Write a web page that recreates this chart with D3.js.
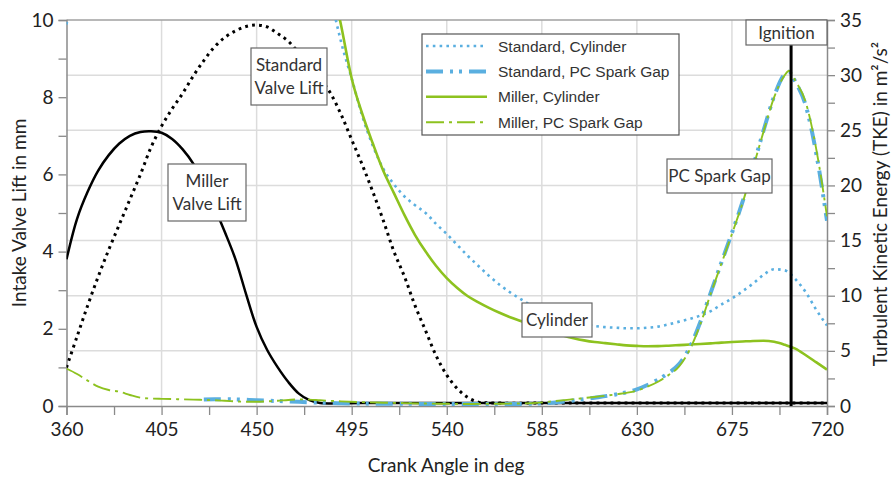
<!DOCTYPE html>
<html>
<head>
<meta charset="utf-8">
<script src="https://cdn.jsdelivr.net/npm/d3@7"></script>
<style>
  body { margin: 0; background: #fff; }
  svg { display: block; }
</style>
</head>
<body>
<svg id="chart" width="892" height="479"></svg>
<script>
// ---------------- DATA ----------------
const xTicks = [360, 405, 450, 495, 540, 585, 630, 675, 720];
const leftTicks = [0, 2, 4, 6, 8, 10];
const rightTicks = [0, 5, 10, 15, 20, 25, 30, 35];

// Intake valve lift (mm) vs crank angle (deg)
const millerLiftDeg = [360,365,370,375,380,385,390,395,400,405,410,415,420,425,430,435,440,445,450,455,460,465,470,475,480,500,550,600,650,700,720];
const millerLiftVal = [3.8,4.85,5.55,6.1,6.5,6.8,7.0,7.1,7.12,7.08,6.92,6.65,6.28,5.75,5.15,4.5,3.8,2.9,2.05,1.45,1.0,0.62,0.32,0.15,0.08,0.08,0.08,0.08,0.08,0.08,0.08];

const stdLiftDeg = [360,365,370,375,380,385,390,395,400,405,410,415,420,425,430,435,440,445,450,455,460,465,470,475,480,485,490,495,500,505,510,515,520,525,530,535,540,545,550,555,560,600,650,700,720];
const stdLiftVal = [1.0,1.8,2.6,3.35,4.05,4.7,5.35,6.0,6.7,7.25,7.7,8.1,8.55,8.95,9.3,9.55,9.72,9.83,9.87,9.82,9.65,9.45,9.15,8.85,8.5,8.1,7.55,6.9,6.25,5.55,4.8,4.0,3.35,2.6,1.95,1.3,0.8,0.45,0.22,0.1,0.08,0.08,0.08,0.08,0.08];

// Turbulent kinetic energy (m²/s²)
const stdCylDeg = [360,365,400,440,480,485,490,495,500,505,510,515,520,525,530,535,540,545,550,555,560,565,570,575,580,585,590,595,600,605,610,615,620,625,630,635,640,645,650,655,660,665,670,675,680,685,690,695,700,705,710,715,720];
const stdCylVal = [34.6,40,80,90,45,37.5,33,29.7,26.3,23.6,21.5,20.1,19.0,18.2,17.5,16.5,15.6,14.6,13.6,12.7,11.8,11.0,10.3,9.7,9.1,8.6,8.2,7.9,7.6,7.4,7.25,7.15,7.1,7.05,7.05,7.1,7.2,7.4,7.65,7.9,8.2,8.6,9.2,9.75,10.4,11.1,11.9,12.4,12.3,11.5,10.3,8.7,7.3];

const stdGapDeg = [425,430,440,450,460,470,480,490,500,520,540,560,580,590,600,610,620,630,635,640,645,650,655,660,665,670,675,680,685,690,695,700,702,705,710,715,720];
const stdGapVal = [0.6,0.62,0.6,0.52,0.45,0.38,0.3,0.25,0.22,0.2,0.18,0.18,0.2,0.3,0.5,0.75,1.05,1.5,1.9,2.4,3.0,3.8,5.3,7.6,10.3,13.0,15.7,18.5,21.7,25.0,28.1,30.1,30.3,29.4,27.2,22.8,16.8];

const milCylDeg = [360,400,440,480,485,490,495,500,505,510,515,520,525,530,535,540,545,550,555,560,565,570,575,580,585,590,595,600,605,610,615,620,625,630,635,640,645,650,655,660,665,670,675,680,685,690,695,700,705,710,715,720];
const milCylVal = [60,75,80,45,39,34.5,29.7,26.5,23.8,21.3,19.3,17.3,15.5,14.0,12.7,11.6,10.7,9.95,9.4,8.9,8.45,8.05,7.7,7.35,7.0,6.7,6.4,6.15,5.95,5.8,5.7,5.6,5.5,5.45,5.42,5.43,5.47,5.52,5.57,5.62,5.68,5.75,5.8,5.85,5.9,5.92,5.82,5.55,5.2,4.6,3.95,3.3];

const milGapDeg = [360,365,370,375,380,385,390,395,400,405,410,415,420,425,430,435,440,445,450,455,460,465,470,475,480,490,500,510,520,530,540,550,560,570,580,590,600,610,620,630,635,640,645,650,655,660,665,670,675,680,685,690,695,700,702,705,710,715,720];
const milGapVal = [3.4,2.9,2.3,1.75,1.45,1.3,1.0,0.75,0.68,0.65,0.63,0.6,0.58,0.55,0.52,0.47,0.42,0.38,0.38,0.42,0.48,0.55,0.6,0.58,0.52,0.42,0.35,0.3,0.26,0.22,0.2,0.18,0.2,0.22,0.25,0.42,0.62,0.82,1.05,1.4,1.75,2.2,2.8,3.6,5.1,7.4,10.2,12.9,15.6,18.4,21.6,24.9,28.0,30.0,30.4,29.5,27.5,23.2,17.2];

const ignitionDeg = 703;

const legendNames = ["Standard, Cylinder", "Standard, PC Spark Gap", "Miller, Cylinder", "Miller, PC Spark Gap"];

// ---------------- STYLES ----------------
const BLUE = "#5aafe0", GREEN = "#8dc21f", BLACK = "#000";
const styles = {
  "Standard, Cylinder":     { color: BLUE,  width: 2.6, dash: "2.6,4.2" },
  "Standard, PC Spark Gap": { color: BLUE,  width: 4,   dash: "17,7,3,6,3,7" },
  "Miller, Cylinder":       { color: GREEN, width: 2.6, dash: null },
  "Miller, PC Spark Gap":   { color: GREEN, width: 1.9, dash: "18,5,3,5" }
};

// ---------------- CHART ----------------
const svg = d3.select("#chart");
const L = 66.5, R = 827, T = 20, B = 406;
const x = d3.scaleLinear().domain([360, 720]).range([L, R]);
const yL = d3.scaleLinear().domain([0, 10]).range([B, T]);
const yR = d3.scaleLinear().domain([0, 35]).range([B, T]);

const tickFont = "Lato, 'Open Sans', sans-serif";
const legFont = "'Liberation Sans', Arial, sans-serif";

svg.append("defs").append("clipPath").attr("id", "clip")
  .append("rect").attr("x", L).attr("y", T).attr("width", R - L).attr("height", B - T);

// grid
const grid = svg.append("g").attr("stroke", "#dcdcdc").attr("stroke-width", 1.5);
[5, 10, 15, 20, 25, 30].forEach(v => {
  grid.append("line").attr("x1", L).attr("x2", R).attr("y1", yR(v)).attr("y2", yR(v));
});
xTicks.slice(1, -1).forEach(v => {
  grid.append("line").attr("x1", x(v)).attr("x2", x(v)).attr("y1", T).attr("y2", B);
});
// top border
svg.append("line").attr("x1", L).attr("x2", R).attr("y1", T).attr("y2", T)
  .attr("stroke", "#a0a0a0").attr("stroke-width", 1.5);

// axes
function styleAxis(g) {
  g.select(".domain").attr("stroke", "#8a8a8a").attr("stroke-width", 1.5);
  g.selectAll(".tick line").attr("stroke", "#8a8a8a").attr("stroke-width", 1.3);
  g.selectAll(".tick text").attr("fill", "#222").style("font-family", tickFont).style("font-size", "19px");
}
const xAll = d3.range(360, 720.1, 22.5);
svg.append("g").attr("transform", `translate(0,${B})`)
  .call(d3.axisBottom(x).tickValues(xAll).tickSize(9).tickPadding(8)
    .tickFormat(d => xTicks.includes(d) ? d : ""))
  .call(styleAxis);
svg.append("g").attr("transform", `translate(${L},0)`)
  .call(d3.axisLeft(yL).tickValues(d3.range(0, 10.1, 1)).tickSize(8).tickPadding(5)
    .tickFormat(d => leftTicks.includes(d) ? d : ""))
  .call(styleAxis);
svg.append("g").attr("transform", `translate(${R},0)`)
  .call(d3.axisRight(yR).tickValues(d3.range(0, 35.1, 2.5)).tickSize(8).tickPadding(5)
    .tickFormat(d => rightTicks.includes(d) ? d : ""))
  .call(styleAxis);

// axis titles
svg.append("text").attr("transform", `translate(26,213) rotate(-90)`)
  .attr("text-anchor", "middle").style("font-family", tickFont).style("font-size", "19px")
  .attr("fill", "#222").text("Intake Valve Lift in mm");
svg.append("text").attr("x", 446).attr("y", 472)
  .attr("text-anchor", "middle").style("font-family", tickFont).style("font-size", "19px")
  .attr("fill", "#222").text("Crank Angle in deg");
svg.append("text").attr("transform", `translate(887,204) rotate(-90)`)
  .attr("text-anchor", "middle").style("font-family", tickFont).style("font-size", "19px")
  .attr("fill", "#222").text("Turbulent Kinetic Energy (TKE) in m²/s²");

// plot curves
const plot = svg.append("g").attr("clip-path", "url(#clip)");
function zip(a, b) { return a.map((d, i) => [d, b[i]]); }

function drawLine(data, yScale, st, curve) {
  const line = d3.line().x(d => x(d[0])).y(d => yScale(d[1])).curve(curve || d3.curveMonotoneX);
  const p = plot.append("path").attr("d", line(data)).attr("fill", "none")
    .attr("stroke", st.color).attr("stroke-width", st.width)
    .attr("stroke-linecap", "butt").attr("stroke-linejoin", "round");
  if (st.dash) p.attr("stroke-dasharray", st.dash);
}

// valve lifts
drawLine(zip(stdLiftDeg, stdLiftVal), yL, { color: BLACK, width: 3, dash: "2.8,4.2" }, d3.curveCatmullRom.alpha(0.5));
drawLine(zip(millerLiftDeg, millerLiftVal), yL, { color: BLACK, width: 2.5, dash: null }, d3.curveCatmullRom.alpha(0.5));

// TKE
drawLine(zip(stdCylDeg, stdCylVal), yR, styles["Standard, Cylinder"]);
drawLine(zip(milCylDeg, milCylVal), yR, styles["Miller, Cylinder"]);
drawLine(zip(stdGapDeg, stdGapVal), yR, styles["Standard, PC Spark Gap"]);
drawLine(zip(milGapDeg, milGapVal), yR, styles["Miller, PC Spark Gap"]);

// ignition line
svg.append("line").attr("x1", x(ignitionDeg)).attr("x2", x(ignitionDeg))
  .attr("y1", T).attr("y2", B).attr("stroke", "#000").attr("stroke-width", 3);

// annotation boxes
function box(cx, cy, w, h, lines, lh) {
  svg.append("rect").attr("x", cx - w / 2).attr("y", cy - h / 2).attr("width", w).attr("height", h)
    .attr("fill", "#fff").attr("stroke", "#666").attr("stroke-width", 1.2);
  const t = svg.append("text").attr("text-anchor", "middle")
    .style("font-family", tickFont).style("font-size", "17px").attr("fill", "#333");
  const n = lines.length;
  lines.forEach((s, i) => {
    t.append("tspan").attr("x", cx).attr("y", cy + (i - (n - 1) / 2) * lh + 6).text(s);
  });
}
box(786.5, 32.5, 81, 25, ["Ignition"], 0);
box(289, 76.5, 76, 57, ["Standard", "Valve Lift"], 23);
box(207, 192.5, 78, 57, ["Miller", "Valve Lift"], 23);
box(557, 320, 70, 34, ["Cylinder"], 0);
box(719.5, 176, 105, 34, ["PC Spark Gap"], 0);

// legend
const leg = svg.append("g");
leg.append("rect").attr("x", 422).attr("y", 34).attr("width", 257).attr("height", 101)
  .attr("fill", "#fff").attr("stroke", "#555").attr("stroke-width", 1.2);
legendNames.forEach((name, i) => {
  const yy = 46 + i * 25.4;
  const st = styles[name];
  const ln = leg.append("line").attr("x1", 426).attr("x2", 487).attr("y1", yy).attr("y2", yy)
    .attr("stroke", st.color).attr("stroke-width", st.width);
  if (st.dash) ln.attr("stroke-dasharray", st.dash);
  leg.append("text").attr("x", 498).attr("y", yy + 5.5)
    .style("font-family", legFont).style("font-size", "15.5px").attr("fill", "#333").text(name);
});
</script>
</body>
</html>
